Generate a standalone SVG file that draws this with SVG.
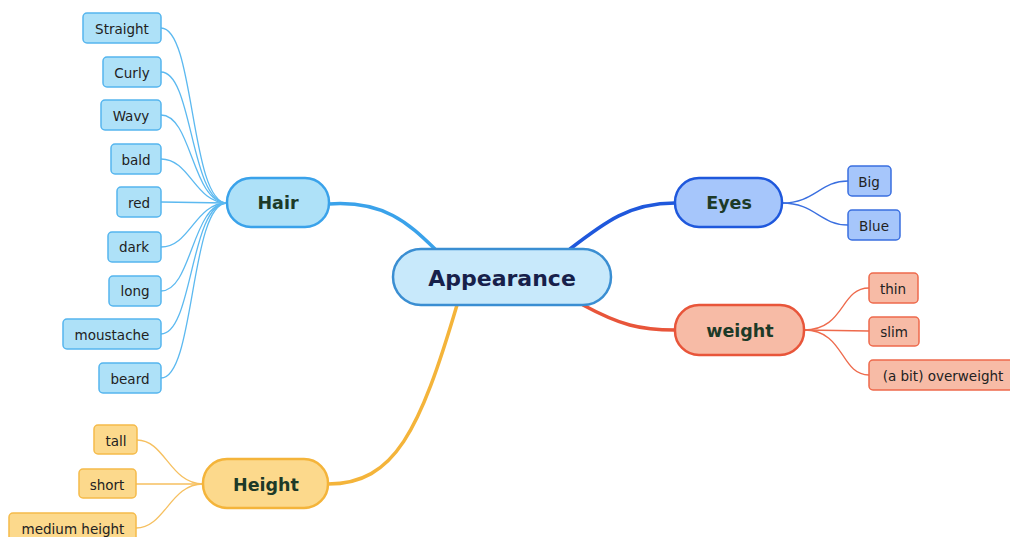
<svg xmlns="http://www.w3.org/2000/svg" width="1010" height="537" viewBox="0 0 1010 537">
  <style>
    text { font-family: "DejaVu Sans", Verdana, "Liberation Sans", sans-serif; text-anchor: middle; dominant-baseline: central; }
    .leaf text { font-size: 13.5px; fill: #222; }
    .branch text { font-size: 17.5px; font-weight: bold; fill: #1d3a28; }
    .root text { font-size: 22px; font-weight: bold; fill: #17204a; }
    .hair rect { fill: #aee1f8; stroke: #55b5ee; stroke-width: 1.5; }
    .hairB rect { fill: #aee1f8; stroke: #3aa2ea; stroke-width: 2.5; }
    .eyes rect { fill: #a6c6fb; stroke: #3a6fe0; stroke-width: 1.5; }
    .eyesB rect { fill: #a6c6fb; stroke: #1f58dc; stroke-width: 2.5; }
    .wt rect { fill: #f7bba6; stroke: #ee6a4c; stroke-width: 1.5; }
    .wtB rect { fill: #f7bba6; stroke: #e8553a; stroke-width: 2.5; }
    .ht rect { fill: #fcd98c; stroke: #f5bb4a; stroke-width: 1.5; }
    .htB rect { fill: #fcd98c; stroke: #f4b43a; stroke-width: 2.5; }
    .c { fill: none; stroke-linecap: round; }
    .main { stroke-width: 3.5; }
    .thin { stroke-width: 1.3; }
  </style>

  <g id="connectors">
    <!-- trunk links from the root -->
    <path class="c main" stroke="#3aa2ea" d="M329,204 C385,200 410,225 435,249"/>
    <path class="c main" stroke="#1f58dc" d="M570,249 C605,222 630,203 675,203"/>
    <path class="c main" stroke="#e8553a" d="M583,305 C620,325 640,330 675,330"/>
    <path class="c main" stroke="#f4b43a" d="M457,305 C420,430 395,484 328,484"/>
    <!-- Hair leaves -->
    <g stroke="#5cb9f0">
      <path class="c thin" d="M161,28 C195,28 190,203 227,203"/>
      <path class="c thin" d="M161,72 C193,72 190,203 227,203"/>
      <path class="c thin" d="M161,115 C192,115 192,203 227,203"/>
      <path class="c thin" d="M161,159 C190,159 195,203 227,203"/>
      <path class="c thin" d="M161,202 L227,203"/>
      <path class="c thin" d="M161,247 C190,247 195,203 227,203"/>
      <path class="c thin" d="M161,291 C192,291 192,203 227,203"/>
      <path class="c thin" d="M161,334 C193,334 190,203 227,203"/>
      <path class="c thin" d="M161,378 C195,378 190,203 227,203"/>
    </g>
    <!-- Height leaves -->
    <g stroke="#f6c060">
      <path class="c thin" d="M137,440 C165,440 170,484 203,484"/>
      <path class="c thin" d="M136,484 L203,484"/>
      <path class="c thin" d="M136,528 C165,528 170,484 203,484"/>
    </g>
    <!-- Eyes leaves -->
    <g stroke="#3a6fe0">
      <path class="c thin" d="M782,203 C815,203 820,181 848,181"/>
      <path class="c thin" d="M782,203 C815,203 820,225 848,225"/>
    </g>
    <!-- weight leaves -->
    <g stroke="#ee6a4c">
      <path class="c thin" d="M804,330 C845,330 840,288 869,288"/>
      <path class="c thin" d="M804,330 L869,331"/>
      <path class="c thin" d="M804,330 C845,330 840,375 869,375"/>
    </g>
  </g>

  <!-- root -->
  <g id="appearance" class="root">
    <rect x="393" y="249" width="218" height="56" rx="28" fill="#c8e9fb" stroke="#3a8ed2" stroke-width="2.5"/>
    <text x="502" y="278">Appearance</text>
  </g>

  <!-- branches -->
  <g id="hair" class="branch hairB">
    <rect x="227" y="178" width="102" height="49" rx="24"/>
    <text x="278" y="203">Hair</text>
  </g>
  <g id="height" class="branch htB">
    <rect x="203" y="459" width="125" height="49" rx="24"/>
    <text x="266" y="485">Height</text>
  </g>
  <g id="eyes" class="branch eyesB">
    <rect x="675" y="178" width="107" height="49" rx="24"/>
    <text x="729" y="203">Eyes</text>
  </g>
  <g id="weight" class="branch wtB">
    <rect x="675" y="305" width="129" height="50" rx="24"/>
    <text x="740" y="331">weight</text>
  </g>

  <!-- Hair leaves -->
  <g id="straight" class="leaf hair"><rect x="83" y="13" width="78" height="30" rx="4"/><text x="122" y="29">Straight</text></g>
  <g id="curly" class="leaf hair"><rect x="103" y="57" width="58" height="30" rx="4"/><text x="132" y="73">Curly</text></g>
  <g id="wavy" class="leaf hair"><rect x="101" y="100" width="60" height="30" rx="4"/><text x="131" y="116">Wavy</text></g>
  <g id="bald" class="leaf hair"><rect x="111" y="144" width="50" height="30" rx="4"/><text x="136" y="160">bald</text></g>
  <g id="red" class="leaf hair"><rect x="117" y="187" width="44" height="30" rx="4"/><text x="139" y="203">red</text></g>
  <g id="dark" class="leaf hair"><rect x="108" y="232" width="53" height="30" rx="4"/><text x="134" y="247">dark</text></g>
  <g id="long" class="leaf hair"><rect x="109" y="276" width="52" height="30" rx="4"/><text x="135" y="291">long</text></g>
  <g id="moustache" class="leaf hair"><rect x="63" y="319" width="98" height="30" rx="4"/><text x="112" y="335">moustache</text></g>
  <g id="beard" class="leaf hair"><rect x="99" y="363" width="62" height="30" rx="4"/><text x="130" y="379">beard</text></g>

  <!-- Height leaves -->
  <g id="tall" class="leaf ht"><rect x="94" y="425" width="43" height="29" rx="4"/><text x="116" y="441">tall</text></g>
  <g id="short" class="leaf ht"><rect x="79" y="469" width="57" height="29" rx="4"/><text x="107" y="485">short</text></g>
  <g id="medium-height" class="leaf ht"><rect x="9" y="513" width="127" height="30" rx="4"/><text x="73" y="529">medium height</text></g>

  <!-- Eyes leaves -->
  <g id="big" class="leaf eyes"><rect x="848" y="166" width="43" height="30" rx="4"/><text x="869" y="182">Big</text></g>
  <g id="blue" class="leaf eyes"><rect x="848" y="210" width="52" height="30" rx="4"/><text x="874" y="226">Blue</text></g>

  <!-- weight leaves -->
  <g id="thin" class="leaf wt"><rect x="869" y="273" width="49" height="30" rx="4"/><text x="893" y="289">thin</text></g>
  <g id="slim" class="leaf wt"><rect x="869" y="317" width="50" height="29" rx="4"/><text x="894" y="332">slim</text></g>
  <g id="overweight" class="leaf wt"><rect x="869" y="360" width="150" height="30" rx="4"/><text x="943" y="376">(a bit) overweight</text></g>
</svg>
